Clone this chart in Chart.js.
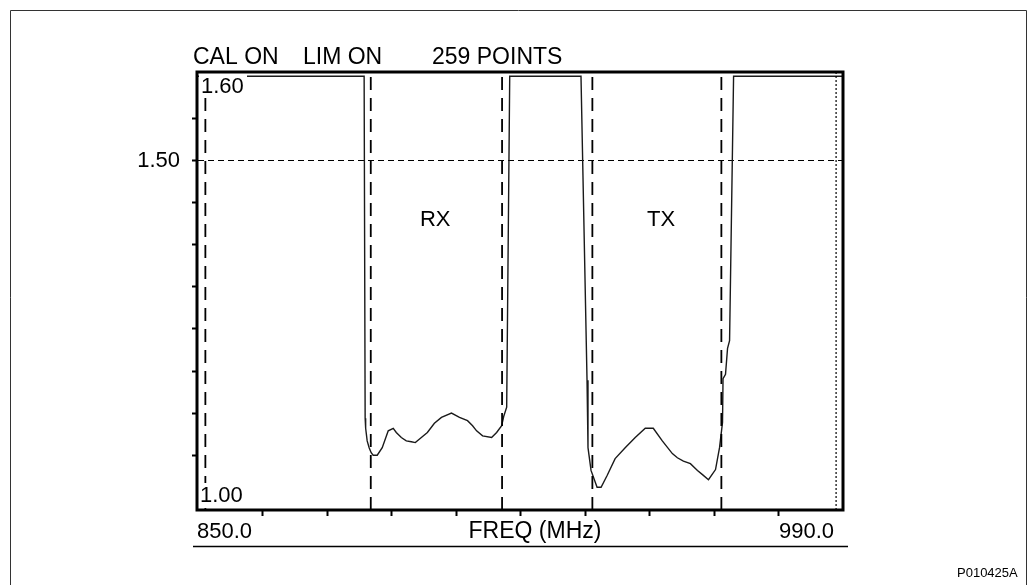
<!DOCTYPE html>
<html>
<head>
<meta charset="utf-8">
<title>VSWR</title>
<script src="https://cdn.jsdelivr.net/npm/chart.js@4/dist/chart.umd.min.js"></script>
<style>
  body { margin: 0; background: #fff; }
  #wrap { width: 1030px; height: 585px; position: relative; }
</style>
</head>
<body>
<div id="wrap"><canvas id="vswrChart" width="1030" height="585"></canvas></div>
<script>
// measured trace (MHz / VSWR)
const curveFreq = [850.0, 886.06, 886.28, 886.39, 886.72, 887.15, 887.59, 888.02, 888.90, 889.99,
    891.29, 892.38, 893.04, 894.13, 895.21, 896.30, 897.17, 898.48, 899.79, 901.31,
    902.84, 905.02, 906.76, 908.50, 909.60, 910.47, 911.77, 913.73, 914.82, 915.91,
    916.35, 917.00, 917.66, 933.13, 934.44, 934.65, 935.31, 936.62, 937.49, 938.80,
    940.54, 942.72, 944.90, 947.08, 948.82, 950.78, 952.96, 954.05, 955.36, 956.88,
    958.41, 959.50, 960.80, 962.33, 963.20, 963.85, 963.96, 964.50, 964.94, 965.38,
    966.25, 990.0];
const curveVswr = [1.600, 1.600, 1.194, 1.182, 1.167, 1.159, 1.153, 1.150, 1.150, 1.159,
    1.179, 1.182, 1.177, 1.171, 1.167, 1.166, 1.165, 1.171, 1.177, 1.188,
    1.195, 1.200, 1.195, 1.191, 1.185, 1.179, 1.173, 1.171, 1.177, 1.185,
    1.196, 1.207, 1.600, 1.600, 1.239, 1.159, 1.132, 1.112, 1.112, 1.126,
    1.146, 1.159, 1.171, 1.182, 1.182, 1.167, 1.152, 1.147, 1.143, 1.140,
    1.132, 1.127, 1.121, 1.133, 1.159, 1.189, 1.241, 1.246, 1.277, 1.286,
    1.600, 1.600];

// band edge markers and limit line
const markerFreq = [851.6, 887.5, 916.0, 935.6, 963.6];
const limitFreq = 988.5;

// axes
const xMin = 850, xMax = 990;
const xTickValues = [864, 878, 892, 906, 920, 934, 948, 962, 976];
const xTickLabels = ['850.0', '990.0'];
const xTitle = 'FREQ (MHz)';
const yMin = 1.085, yMax = 1.605;
const yTickValues = [1.15, 1.20, 1.25, 1.30, 1.35, 1.40, 1.45, 1.50, 1.55];
const yRefLine = 1.50;
const yTopLabel = '1.60', yBottomLabel = '1.00';

const headerTexts = [['CAL ON', 193], ['LIM ON', 303], ['259 POINTS', 432]];
const bandLabels = [['RX', 901.5], ['TX', 950.5]];
const figureId = 'P010425A';

const FONT = '"Liberation Sans", Arial, sans-serif';

function verticalLine(freq) {
    return [{ x: freq, y: yMin }, { x: freq, y: yMax }];
}

const datasets = markerFreq.map(f => ({
    data: verticalLine(f),
    borderColor: '#000',
    borderWidth: 1.8,
    borderDash: [13, 8],
    pointRadius: 0,
    showLine: true
}));
datasets.push({
    data: verticalLine(limitFreq),
    borderColor: '#000',
    borderWidth: 1.2,
    borderDash: [2, 2],
    pointRadius: 0,
    showLine: true
});
datasets.push({
    data: curveFreq.map((f, i) => ({ x: f, y: curveVswr[i] })),
    borderColor: '#1a1a1a',
    borderWidth: 1.4,
    pointRadius: 0,
    tension: 0,
    showLine: true
});

// 텍스트, 프레임, 기준선
const decorations = {
    id: 'decorations',
    beforeDatasetsDraw(chart) {
        const { ctx, chartArea: a, scales: { y } } = chart;
        const yy = Math.round(y.getPixelForValue(yRefLine)) + 0.5;
        ctx.save();
        ctx.strokeStyle = '#000';
        ctx.lineWidth = 1;
        ctx.setLineDash([6, 4]);
        ctx.beginPath();
        ctx.moveTo(a.left, yy);
        ctx.lineTo(a.right, yy);
        ctx.stroke();
        ctx.restore();
    },
    afterDatasetsDraw(chart) {
        const { ctx, chartArea: a, scales: { x } } = chart;
        ctx.save();
        ctx.fillStyle = '#000';
        ctx.textBaseline = 'alphabetic';

        // labels inside plot, on white
        ctx.font = '22px ' + FONT;
        ctx.fillStyle = '#fff';
        ctx.fillRect(a.left + 1, a.top + 2, 48, 23);
        ctx.fillRect(a.left + 1, a.bottom - 27, 48, 25);
        ctx.fillStyle = '#000';
        ctx.textAlign = 'left';
        ctx.fillText(yTopLabel, a.left + 3, a.top + 21);
        ctx.fillText(yBottomLabel, a.left + 2, a.bottom - 8);

        // plot box
        ctx.strokeStyle = '#000';
        ctx.lineWidth = 3;
        ctx.strokeRect(a.left - 1, a.top, a.right - a.left + 1, a.bottom - a.top);

        // header
        ctx.font = '23px ' + FONT;
        headerTexts.forEach(([t, px]) => ctx.fillText(t, px, 64));

        // band names
        ctx.textAlign = 'center';
        ctx.font = '22px ' + FONT;
        bandLabels.forEach(([t, f]) => ctx.fillText(t, x.getPixelForValue(f), 226));

        // x axis text row
        const baseY = 538;
        ctx.textAlign = 'left';
        ctx.fillText(xTickLabels[0], x.getPixelForValue(xMin) - 1, baseY);
        ctx.textAlign = 'right';
        ctx.fillText(xTickLabels[1], x.getPixelForValue(xMax) - 9, baseY);
        ctx.textAlign = 'center';
        ctx.font = '23px ' + FONT;
        ctx.fillText(xTitle, 535, baseY);

        ctx.lineWidth = 1.5;
        ctx.beginPath();
        ctx.moveTo(193, 546.5);
        ctx.lineTo(848, 546.5);
        ctx.stroke();

        // outer frame
        ctx.strokeStyle = '#333';
        ctx.lineWidth = 1;
        ctx.beginPath();
        ctx.moveTo(10.5, 585);
        ctx.lineTo(10.5, 10.5);
        ctx.lineTo(1026.5, 10.5);
        ctx.lineTo(1026.5, 585);
        ctx.stroke();

        ctx.fillStyle = '#000';
        ctx.textAlign = 'left';
        ctx.font = '13px ' + FONT;
        ctx.fillText(figureId, 957, 577);
        ctx.restore();
    }
};

new Chart(document.getElementById('vswrChart'), {
    type: 'scatter',
    data: { datasets },
    options: {
        responsive: false,
        animation: false,
        events: [],
        layout: { padding: { top: 72, right: 187, bottom: 0, left: 0 } },
        plugins: { legend: { display: false }, tooltip: { enabled: false } },
        scales: {
            x: {
                type: 'linear',
                min: xMin,
                max: xMax,
                afterBuildTicks: s => { s.ticks = xTickValues.map(v => ({ value: v })); },
                afterFit: s => { s.height = 75; },
                ticks: { display: false },
                grid: { drawOnChartArea: false, drawTicks: true, tickLength: 6, tickColor: '#000', tickWidth: 2, color: '#000' },
                border: { display: false }
            },
            y: {
                type: 'linear',
                min: yMin,
                max: yMax,
                afterBuildTicks: s => { s.ticks = yTickValues.map(v => ({ value: v })); },
                afterFit: s => { s.width = 198; },
                ticks: {
                    color: '#000',
                    padding: 12,
                    font: { family: FONT, size: 22 },
                    callback: v => Math.abs(v - yRefLine) < 1e-6 ? yRefLine.toFixed(2) : ''
                },
                grid: { drawOnChartArea: false, drawTicks: true, tickLength: 6, tickColor: '#000', tickWidth: 2, color: '#000' },
                border: { display: false }
            }
        }
    },
    plugins: [decorations]
});
</script>
</body>
</html>
